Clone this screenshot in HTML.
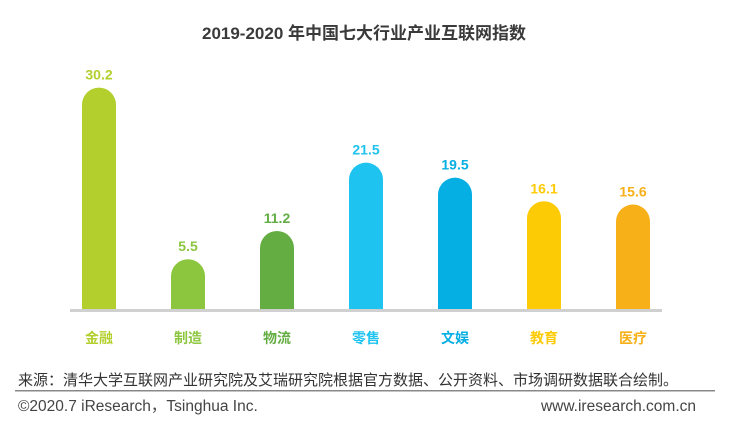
<!DOCTYPE html>
<html><head><meta charset="utf-8">
<style>
body{margin:0;background:#fff;width:729px;height:424px;overflow:hidden;font-family:"Liberation Sans","Noto Sans CJK SC",sans-serif;}
svg text{font-family:"Liberation Sans","Noto Sans CJK SC",sans-serif;}
</style></head>
<body>
<svg id="chart" width="729" height="424">
  <text x="364" y="39" text-anchor="middle" font-size="17" font-weight="bold" fill="#3a3a3a">2019-2020 年中国七大行业产业互联网指数</text>
  <g id="bars"></g>
  <rect x="70" y="309" width="592" height="3" fill="#d0d0d0"></rect>
  <text x="18" y="385" font-size="15" fill="#333">来源：清华大学互联网产业研究院及艾瑞研究院根据官方数据、公开资料、市场调研数据联合绘制。</text>
  <rect x="15" y="390" width="700" height="1.5" fill="#888"></rect>
  <text x="18" y="411" font-size="15.5" fill="#444">©2020.7 iResearch，Tsinghua Inc.</text>
  <text x="696" y="411" font-size="15.5" fill="#444" text-anchor="end">www.iresearch.com.cn</text>
</svg>
<script>
const categories = ["金融","制造","物流","零售","文娱","教育","医疗"];
const values = [30.2,5.5,11.2,21.5,19.5,16.1,15.6];
const labels = ["30.2","5.5","11.2","21.5","19.5","16.1","15.6"];
const colors = ["#b3cf2e","#8cc63f","#64ad43","#1fc3ef","#05aee3","#fdcb06","#f8b018"];
const baseY = 310, barW = 34, x0 = 99, step = 89;
function xScale(i){ return x0 + i*step; }
function hScale(v){ return 30 + 3.2*v + 0.105*v*v; }
const NS = "http://www.w3.org/2000/svg";
const g = document.getElementById("bars");
categories.forEach((c,i)=>{
  const cx = xScale(i), h = hScale(values[i]), top = baseY - h, r = barW/2;
  const p = document.createElementNS(NS,"path");
  p.setAttribute("d",`M${cx-r},${baseY} L${cx-r},${top+r} A${r},${r} 0 0 1 ${cx+r},${top+r} L${cx+r},${baseY} Z`);
  p.setAttribute("fill",colors[i]);
  
  
  g.appendChild(p);
  const t = document.createElementNS(NS,"text");
  t.setAttribute("x",cx); t.setAttribute("y",top-8);
  t.setAttribute("text-anchor","middle"); t.setAttribute("font-size","14");
  t.setAttribute("font-weight","bold"); t.setAttribute("fill",colors[i]);
  t.textContent = labels[i];
  
  
  g.appendChild(t);
  const l = document.createElementNS(NS,"text");
  l.setAttribute("x",cx); l.setAttribute("y",343);
  l.setAttribute("text-anchor","middle"); l.setAttribute("font-size","14");
  l.setAttribute("font-weight","bold"); l.setAttribute("fill",colors[i]);
  l.textContent = c;
  
  
  g.appendChild(l);
});
</script>
</body></html>
